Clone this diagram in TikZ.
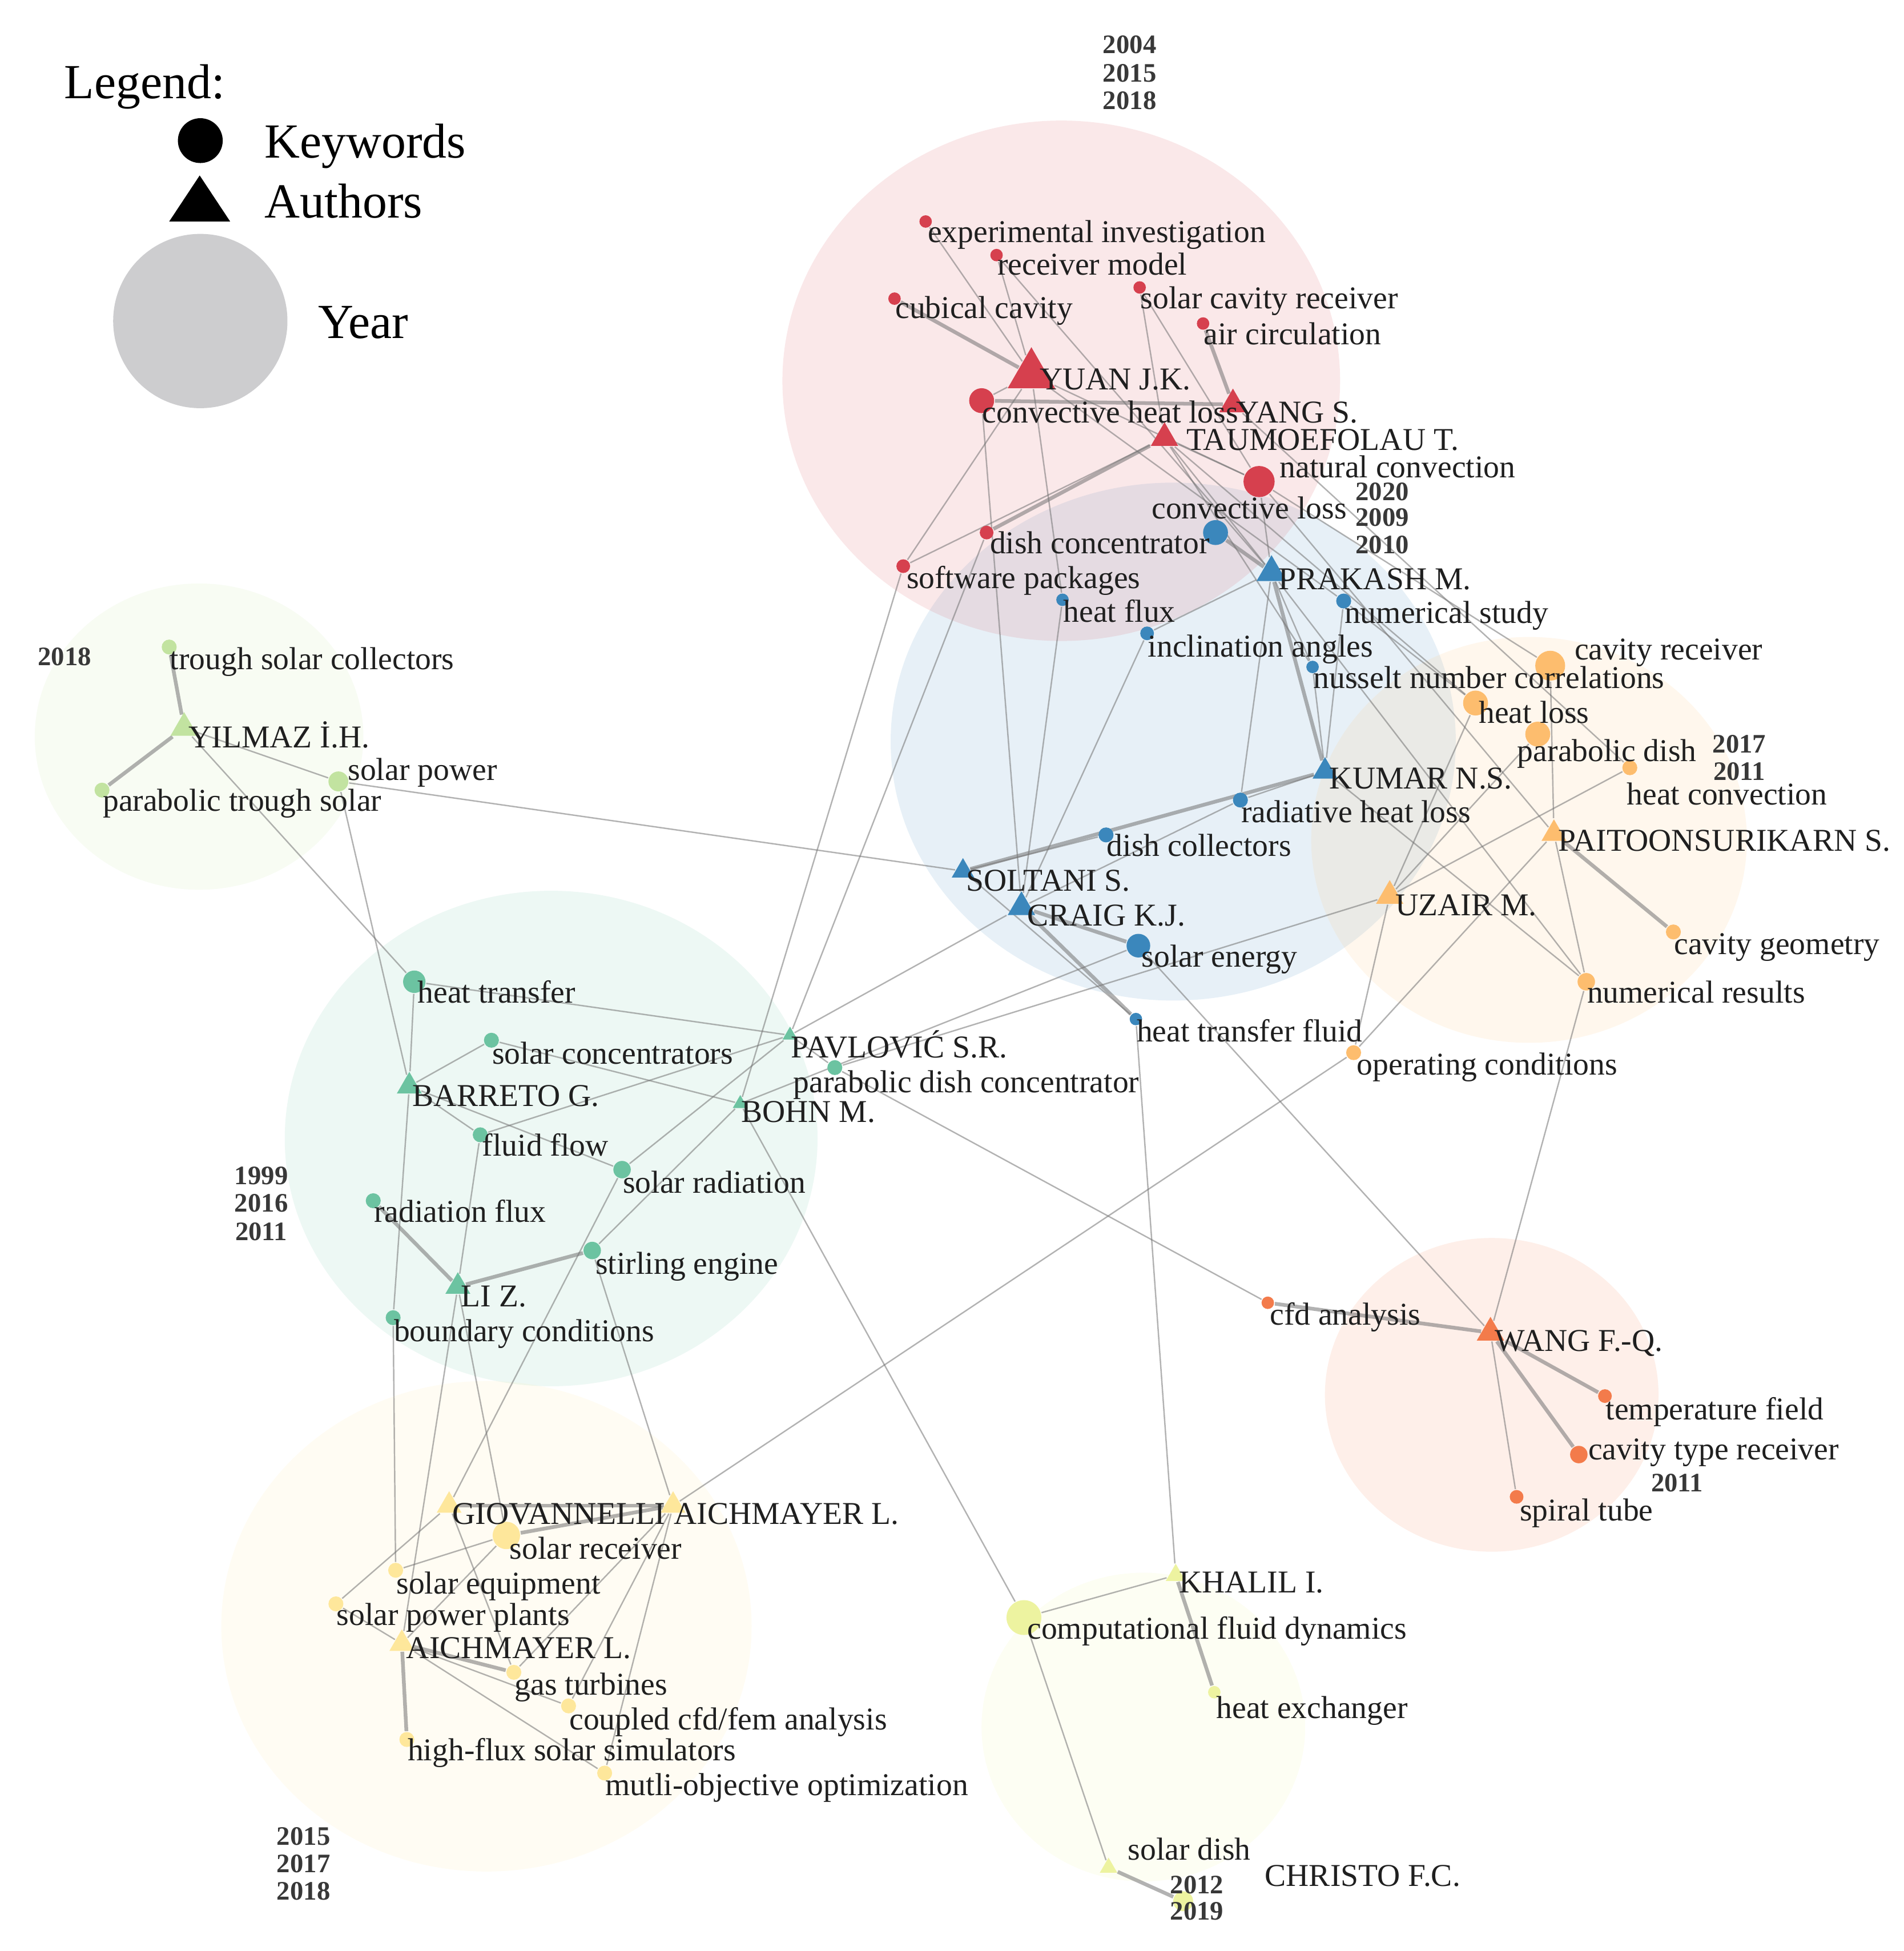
\documentclass[tikz,border=0pt]{standalone}
\usepackage{fontspec}
\setmainfont{Liberation Serif}
\usetikzlibrary{shapes.geometric}
\pgfdeclarelayer{bg}
\pgfdeclarelayer{edges}
\pgfsetlayers{bg,edges,main}
\definecolor{cR}{HTML}{D6404E}
\definecolor{cB}{HTML}{3B87BC}
\definecolor{cO}{HTML}{FDBD6E}
\definecolor{cLG}{HTML}{C2E3A0}
\definecolor{cT}{HTML}{6CC3A1}
\definecolor{cY}{HTML}{FEE79B}
\definecolor{cYG}{HTML}{EDF3A0}
\definecolor{cRO}{HTML}{F37B4B}
\definecolor{legray}{HTML}{CDCDCF}
\begin{document}
\begin{tikzpicture}[x=0.01cm,y=-0.01cm,
  dot/.style={circle,inner sep=0pt,minimum size=#1*0.02cm,draw=none},
  tri/.style={regular polygon,regular polygon sides=3,inner sep=0pt,minimum size=#1*0.01155cm,draw=none},
  lab/.style={anchor=base west,inner sep=0pt,font=\fontsize{7.26}{8}\selectfont,text=black!88},
  yr/.style={inner sep=0pt,font=\fontsize{6.1}{7}\selectfont\bfseries,text=black!78},
  ed/.style={draw=black!55,draw opacity=0.55,line width=0.32pt},
  edt/.style={ed,line width=0.85pt},
  clus/.style={fill opacity=0.12,draw=none},
  leg/.style={anchor=base west,inner sep=0pt,font=\fontsize{11.2}{13}\selectfont}]
\useasboundingbox (0,0) rectangle (1530,1568);

% ---------- clusters ----------
\begin{pgfonlayer}{bg}
\fill[cB,clus] (943,596) ellipse [x radius=2.27cm, y radius=2.08cm];
\fill[cR,clus] (853,306) ellipse [x radius=2.24cm, y radius=2.09cm];
\fill[cO,clus] (1229,675) ellipse [x radius=1.75cm, y radius=1.63cm];
\fill[cLG,clus] (160,592) ellipse [x radius=1.32cm, y radius=1.23cm];
\fill[cT,clus] (443,915) ellipse [x radius=2.14cm, y radius=1.99cm];
\fill[cY,clus] (391,1307) ellipse [x radius=2.13cm, y radius=1.97cm];
\fill[cYG,clus] (919,1388) ellipse [x radius=1.30cm, y radius=1.24cm];
\fill[cRO,clus] (1199,1121) ellipse [x radius=1.34cm, y radius=1.26cm];
\end{pgfonlayer}

% ---------- legend ----------
\node[leg] (legt) at (51,79) {Legend:};
\node[circle,fill=black,inner sep=0pt,minimum size=0.36cm] (legk) at (161,113) {};
\node[leg] (legkt) at (212,127) {Keywords};
\fill[black] (136,178) -- (185,178) -- (160.5,141) -- cycle;
\node[leg] (legat) at (212,175) {Authors};
\node[circle,fill=legray,inner sep=0pt,minimum size=1.40cm] (legy) at (161,258) {};
\node[leg] (legyt) at (255,272) {Year};

% ---------- red cluster ----------
\node[dot=5,fill=cR] (expinv) at (744,178) {};
\node[dot=5,fill=cR] (recmodel) at (801,205) {};
\node[dot=5,fill=cR] (cubical) at (719,240) {};
\node[dot=5,fill=cR] (scr) at (916,231) {};
\node[dot=5,fill=cR] (aircirc) at (967,260) {};
\node[tri=38,fill=cR] (yuan) at (829,301) {};
\node[dot=10,fill=cR] (chl) at (789,322) {};
\node[tri=22,fill=cR] (yang) at (991,325) {};
\node[tri=22,fill=cR] (tau) at (936,352) {};
\node[dot=12.5,fill=cR] (natconv) at (1012,387) {};
\node[dot=5.5,fill=cR] (dishconc) at (793,428) {};
\node[dot=5.5,fill=cR] (softpack) at (726,455) {};

% ---------- blue cluster ----------
\node[dot=10,fill=cB] (convloss) at (977,428) {};
\node[tri=24,fill=cB] (prakash) at (1022,460) {};
\node[dot=5,fill=cB] (heatflux) at (854,482) {};
\node[dot=6,fill=cB] (numstudy) at (1080,483) {};
\node[dot=5.5,fill=cB] (inclin) at (922,509) {};
\node[dot=5,fill=cB] (nusselt) at (1055,536) {};
\node[tri=20,fill=cB] (kumar) at (1065,620) {};
\node[dot=6,fill=cB] (radiative) at (997,643) {};
\node[dot=6,fill=cB] (dishcoll) at (889,671) {};
\node[tri=18,fill=cB] (soltani) at (774,700) {};
\node[tri=22,fill=cB] (craig) at (821,729) {};
\node[dot=9.5,fill=cB] (solarenergy) at (915,760) {};
\node[dot=5,fill=cB] (htf) at (913,819) {};

% ---------- orange cluster ----------
\node[dot=12,fill=cO] (cavrec) at (1246,535) {};
\node[dot=10,fill=cO] (heatloss) at (1186,565) {};
\node[dot=10,fill=cO] (parabdish) at (1236,590) {};
\node[dot=6,fill=cO] (heatconv) at (1310,617) {};
\node[tri=20,fill=cO] (paitoon) at (1249,670) {};
\node[tri=22,fill=cO] (uzair) at (1117,720) {};
\node[dot=6,fill=cO] (cavgeo) at (1345,749) {};
\node[dot=7,fill=cO] (numres) at (1275,789) {};
\node[dot=6,fill=cO] (opcond) at (1088,846) {};

% ---------- light green cluster ----------
\node[dot=6,fill=cLG] (trough) at (136,520) {};
\node[tri=22,fill=cLG] (yilmaz) at (148,585) {};
\node[dot=8,fill=cLG] (solarpower) at (272,628) {};
\node[dot=6,fill=cLG] (ptsolar) at (82,635) {};

% ---------- teal cluster ----------
\node[dot=9,fill=cT] (heattransfer) at (333,789) {};
\node[dot=6,fill=cT] (solconc) at (395,836) {};
\node[tri=12,fill=cT] (pavlovic) at (635,832) {};
\node[dot=6,fill=cT] (pdc) at (671,858) {};
\node[tri=20,fill=cT] (barreto) at (329,873) {};
\node[tri=12,fill=cT] (bohn) at (595,887) {};
\node[dot=6,fill=cT] (fluidflow) at (386,912) {};
\node[dot=7,fill=cT] (solarrad) at (500,940) {};
\node[dot=6,fill=cT] (radflux) at (300,965) {};
\node[dot=7,fill=cT] (stirling) at (476,1005) {};
\node[tri=20,fill=cT] (liz) at (368,1034) {};
\node[dot=6,fill=cT] (boundary) at (316,1059) {};

% ---------- yellow cluster ----------
\node[tri=20,fill=cY] (giovannelli) at (361,1210) {};
\node[tri=20,fill=cY] (aichup) at (541,1210) {};
\node[dot=11,fill=cY] (solarrec) at (407,1234) {};
\node[dot=6,fill=cY] (solarequip) at (318,1262) {};
\node[dot=6,fill=cY] (spp) at (270,1289) {};
\node[tri=20,fill=cY] (aichlow) at (323,1321) {};
\node[dot=6,fill=cY] (gasturb) at (413,1344) {};
\node[dot=6,fill=cY] (coupled) at (457,1371) {};
\node[dot=6,fill=cY] (highflux) at (327,1398) {};
\node[dot=6,fill=cY] (mutli) at (486,1425) {};

% ---------- yellow-green cluster ----------
\node[tri=16,fill=cYG] (khalil) at (945,1266) {};
\node[dot=14,fill=cYG] (compfd) at (823,1300) {};
\node[dot=5,fill=cYG] (heatex) at (976,1360) {};
\node[tri=14,fill=cYG] (christo) at (891,1501) {};
\node[dot=8,fill=cYG] (soldish) at (951,1528) {};

% ---------- red-orange cluster ----------
\node[dot=5,fill=cRO] (cfdanal) at (1019,1047) {};
\node[tri=22,fill=cRO] (wang) at (1198,1071) {};
\node[dot=5.5,fill=cRO] (tempfield) at (1290,1122) {};
\node[dot=7,fill=cRO] (cavtype) at (1269,1169) {};
\node[dot=5.5,fill=cRO] (spiral) at (1219,1203) {};

% ---------- edges ----------
\begin{pgfonlayer}{edges}
\draw[ed] (yuan) -- (expinv);
\draw[ed] (yuan) -- (recmodel);
\draw[edt] (yuan) -- (cubical);
\draw[ed] (yuan) -- (chl);
\draw[edt] (chl) -- (yang);
\draw[edt] (yang) -- (aircirc);
\draw[ed] (scr) -- (tau);
\draw[ed] (scr) -- (natconv);
\draw[ed] (recmodel) -- (prakash);
\draw[ed] (yuan) -- (natconv);
\draw[ed] (yuan) -- (softpack);
\draw[edt] (tau) -- (dishconc);
\draw[ed] (tau) -- (softpack);
\draw[ed] (yuan) -- (heatflux);
\draw[ed] (heatflux) -- (craig);
\draw[ed] (chl) -- (craig);
\draw[ed] (dishconc) -- (pavlovic);
\draw[ed] (softpack) -- (bohn);
\draw[ed] (tau) -- (natconv);
\draw[ed] (tau) -- (prakash);
\draw[ed] (natconv) -- (prakash);
\draw[edt] (convloss) -- (prakash);
\draw[ed] (natconv) -- (cavrec);
\draw[ed] (tau) -- (heatloss);
\draw[ed] (yang) -- (heatconv);
\draw[ed] (natconv) -- (paitoon);
\draw[ed] (prakash) -- (numres);
\draw[ed] (numstudy) -- (heatloss);
\draw[ed] (yuan) -- (numstudy);
\draw[ed] (tau) -- (nusselt);
% blue
\draw[ed] (inclin) -- (prakash);
\draw[ed] (inclin) -- (craig);
\draw[edt] (prakash) -- (kumar);
\draw[ed] (prakash) -- (nusselt);
\draw[ed] (prakash) -- (radiative);
\draw[ed] (numstudy) -- (kumar);
\draw[ed] (nusselt) -- (kumar);
\draw[edt] (soltani) -- (kumar);
\draw[ed] (soltani) -- (dishcoll);
\draw[ed] (craig) -- (radiative);
\draw[ed] (radiative) -- (kumar);
\draw[edt] (craig) -- (solarenergy);
\draw[edt] (craig) -- (htf);
\draw[ed] (soltani) -- (htf);
\draw[ed] (solarenergy) -- (wang);
\draw[ed] (htf) -- (khalil);
\draw[ed] (solarpower) -- (soltani);
\draw[ed] (pavlovic) -- (craig);
\draw[ed] (bohn) -- (solarenergy);
% orange
\draw[ed] (cavrec) -- (paitoon);
\draw[edt] (paitoon) -- (cavgeo);
\draw[ed] (paitoon) -- (numres);
\draw[ed] (opcond) -- (paitoon);
\draw[ed] (uzair) -- (opcond);
\draw[ed] (uzair) -- (heatloss);
\draw[ed] (uzair) -- (parabdish);
\draw[ed] (uzair) -- (heatconv);
\draw[ed] (pdc) -- (uzair);
\draw[ed] (kumar) -- (numres);
\draw[ed] (numres) -- (wang);
\draw[ed] (opcond) -- (aichup);
% light green
\draw[edt] (yilmaz) -- (trough);
\draw[edt] (yilmaz) -- (ptsolar);
\draw[ed] (yilmaz) -- (solarpower);
\draw[ed] (yilmaz) -- (heattransfer);
\draw[ed] (solarpower) -- (barreto);
% teal
\draw[ed] (heattransfer) -- (pavlovic);
\draw[ed] (heattransfer) -- (barreto);
\draw[ed] (barreto) -- (solconc);
\draw[ed] (barreto) -- (fluidflow);
\draw[ed] (barreto) -- (solarrad);
\draw[ed] (barreto) -- (boundary);
\draw[ed] (solconc) -- (bohn);
\draw[ed] (fluidflow) -- (pavlovic);
\draw[ed] (fluidflow) -- (liz);
\draw[ed] (solarrad) -- (pavlovic);
\draw[ed] (stirling) -- (bohn);
\draw[edt] (stirling) -- (liz);
\draw[edt] (radflux) -- (liz);
\draw[ed] (pdc) -- (cfdanal);
\draw[ed] (bohn) -- (compfd);
\draw[ed] (pavlovic) -- (pdc);
\draw[ed] (solarrad) -- (giovannelli);
\draw[ed] (stirling) -- (aichup);
\draw[ed] (liz) -- (solarrec);
\draw[ed] (liz) -- (aichlow);
\draw[ed] (boundary) -- (solarequip);
% yellow
\draw[edt] (giovannelli) -- (aichup);
\draw[edt] (solarrec) -- (aichup);
\draw[ed] (solarrec) -- (solarequip);
\draw[ed] (giovannelli) -- (spp);
\draw[ed] (giovannelli) -- (gasturb);
\draw[ed] (solarrec) -- (aichlow);
\draw[ed] (aichup) -- (gasturb);
\draw[ed] (aichup) -- (coupled);
\draw[ed] (aichup) -- (mutli);
\draw[edt] (aichlow) -- (gasturb);
\draw[ed] (aichlow) -- (coupled);
\draw[ed] (aichlow) -- (mutli);
\draw[edt] (aichlow) -- (highflux);
\draw[ed] (aichlow) -- (spp);
% yellow-green
\draw[ed] (khalil) -- (compfd);
\draw[edt] (khalil) -- (heatex);
\draw[ed] (compfd) -- (christo);
\draw[edt] (christo) -- (soldish);
% red-orange
\draw[edt] (cfdanal) -- (wang);
\draw[edt] (wang) -- (tempfield);
\draw[edt] (wang) -- (cavtype);
\draw[ed] (wang) -- (spiral);
\end{pgfonlayer}

% ---------- labels ----------
\node[lab] (l-expinv) at (745,195) {experimental investigation};
\node[lab] (l-recmodel) at (801,221) {receiver model};
\node[lab] (l-cubical) at (719,256) {cubical cavity};
\node[lab] (l-scr) at (916,248) {solar cavity receiver};
\node[lab] (l-aircirc) at (967,277) {air circulation};
\node[lab] (l-yuan) at (835,313) {YUAN J.K.};
\node[lab] (l-chl) at (789,340) {convective heat loss};
\node[lab] (l-yang) at (993,340) {YANG S.};
\node[lab] (l-tau) at (953,362) {TAUMOEFOLAU T.};
\node[lab] (l-natconv) at (1028,384) {natural convection};
\node[lab] (l-dishconc) at (795,445) {dish concentrator};
\node[lab] (l-softpack) at (728,473) {software packages};
\node[lab] (l-convloss) at (925,417) {convective loss};
\node[lab] (l-prakash) at (1027,474) {PRAKASH M.};
\node[lab] (l-heatflux) at (854,500) {heat flux};
\node[lab] (l-numstudy) at (1080,501) {numerical study};
\node[lab] (l-inclin) at (922,528) {inclination angles};
\node[lab] (l-nusselt) at (1055,553) {nusselt number correlations};
\node[lab] (l-kumar) at (1068,634) {KUMAR N.S.};
\node[lab] (l-radiative) at (997,661) {radiative heat loss};
\node[lab] (l-dishcoll) at (889,688) {dish collectors};
\node[lab] (l-soltani) at (776,716) {SOLTANI S.};
\node[lab] (l-craig) at (825,744) {CRAIG K.J.};
\node[lab] (l-solarenergy) at (917,777) {solar energy};
\node[lab] (l-htf) at (913,837) {heat transfer fluid};
\node[lab] (l-cavrec) at (1265,530) {cavity receiver};
\node[lab] (l-heatloss) at (1188,581) {heat loss};
\node[lab] (l-parabdish) at (1219,612) {parabolic dish};
\node[lab] (l-heatconv) at (1307,647) {heat convection};
\node[lab] (l-paitoon) at (1252,684) {PAITOONSURIKARN S.};
\node[lab] (l-uzair) at (1121,736) {UZAIR M.};
\node[lab] (l-cavgeo) at (1345,767) {cavity geometry};
\node[lab] (l-numres) at (1275,806) {numerical results};
\node[lab] (l-opcond) at (1090,864) {operating conditions};
\node[lab] (l-trough) at (136,538) {trough solar collectors};
\node[lab] (l-yilmaz) at (151,601) {YILMAZ İ.H.};
\node[lab] (l-solarpower) at (279,627) {solar power};
\node[lab] (l-ptsolar) at (82,652) {parabolic trough solar};
\node[lab] (l-heattransfer) at (335,806) {heat transfer};
\node[lab] (l-solconc) at (395,855) {solar concentrators};
\node[lab] (l-pavlovic) at (635,850) {PAVLOVIĆ S.R.};
\node[lab] (l-pdc) at (637,878) {parabolic dish concentrator};
\node[lab] (l-barreto) at (331,889) {BARRETO G.};
\node[lab] (l-bohn) at (595,902) {BOHN M.};
\node[lab] (l-fluidflow) at (387,929) {fluid flow};
\node[lab] (l-solarrad) at (500,959) {solar radiation};
\node[lab] (l-radflux) at (300,982) {radiation flux};
\node[lab] (l-stirling) at (478,1024) {stirling engine};
\node[lab] (l-liz) at (370,1050) {LI Z.};
\node[lab] (l-boundary) at (316,1078) {boundary conditions};
\node[lab] (l-giovannelli) at (363,1225) {GIOVANNELLI};
\node[lab] (l-aichup) at (541,1225) {AICHMAYER L.};
\node[lab] (l-solarrec) at (409,1253) {solar receiver};
\node[lab] (l-solarequip) at (318,1281) {solar equipment};
\node[lab] (l-spp) at (270,1306) {solar power plants};
\node[lab] (l-aichlow) at (326,1333) {AICHMAYER L.};
\node[lab] (l-gasturb) at (413,1362) {gas turbines};
\node[lab] (l-coupled) at (457,1390) {coupled cfd/fem analysis};
\node[lab] (l-highflux) at (327,1415) {high-flux solar simulators};
\node[lab] (l-mutli) at (486,1443) {mutli-objective optimization};
\node[lab] (l-khalil) at (947,1280) {KHALIL I.};
\node[lab] (l-compfd) at (825,1317) {computational fluid dynamics};
\node[lab] (l-heatex) at (977,1381) {heat exchanger};
\node[lab] (l-soldish) at (906,1495) {solar dish};
\node[lab] (l-christo) at (1016,1516) {CHRISTO F.C.};
\node[lab] (l-cfdanal) at (1020,1065) {cfd analysis};
\node[lab] (l-wang) at (1201,1086) {WANG F.-Q.};
\node[lab] (l-tempfield) at (1290,1141) {temperature field};
\node[lab] (l-cavtype) at (1276,1173) {cavity type receiver};
\node[lab] (l-spiral) at (1221,1222) {spiral tube};

% ---------- years ----------
\node[yr] (y1a) at (908,36) {2004};
\node[yr] (y1b) at (908,59) {2015};
\node[yr] (y1c) at (908,81) {2018};
\node[yr] (y2a) at (1111,395) {2020};
\node[yr] (y2b) at (1111,416) {2009};
\node[yr] (y2c) at (1111,438) {2010};
\node[yr] (y3a) at (52,528) {2018};
\node[yr] (y4a) at (1398,598) {2017};
\node[yr] (y4b) at (1398,620) {2011};
\node[yr] (y5a) at (210,945) {1999};
\node[yr] (y5b) at (210,967) {2016};
\node[yr] (y5c) at (210,990) {2011};
\node[yr] (y6a) at (244,1476) {2015};
\node[yr] (y6b) at (244,1498) {2017};
\node[yr] (y6c) at (244,1520) {2018};
\node[yr] (y7a) at (1348,1192) {2011};
\node[yr] (y8a) at (962,1515) {2012};
\node[yr] (y8b) at (962,1536) {2019};
\end{tikzpicture}
\end{document}
